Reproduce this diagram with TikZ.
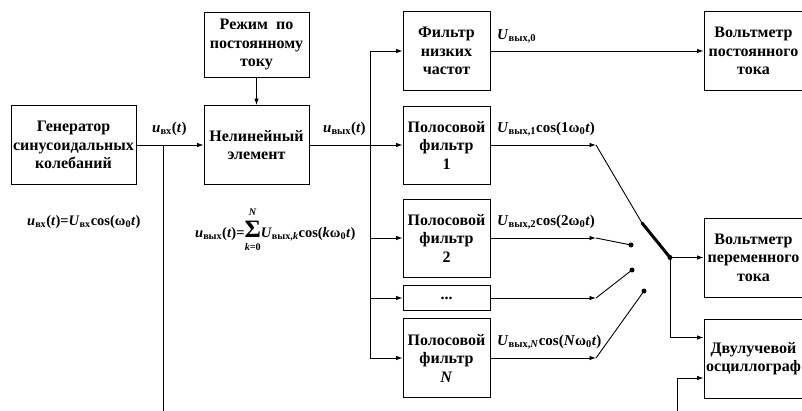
\documentclass[tikz,border=0pt]{standalone}
\usepackage{fontspec}
\usepackage{amsmath}
\setmainfont{Liberation Serif}
\usetikzlibrary{arrows.meta}
% signal names
\newcommand{\uvx}{\textit{u}\textsubscript{вх}(\textit{t})}
\newcommand{\uvyx}{\textit{u}\textsubscript{вых}(\textit{t})}
\newcommand{\Uvyx}[1]{\textit{U}\textsubscript{вых,#1}}
\begin{document}
\begin{tikzpicture}[x=1pt,y=-1pt,
		font=\fontsize{15}{18.5}\selectfont\bfseries,
		block/.style={draw, line width=0.9pt, align=center, inner sep=0pt,
			font=\fontsize{16}{18.5}\selectfont\bfseries},
		lbl/.style={anchor=west, inner sep=0pt},
		arr/.style={line width=0.9pt, -{Latex[length=6.5pt,width=4.5pt]}},
		wire/.style={line width=0.9pt},
		contact/.style={circle, fill, inner sep=0pt, minimum size=5pt}]
		\useasboundingbox (0,0) rectangle (802,411);
		\clip (0,0) rectangle (802,411);
		% Blocks on the left
		\node[block, minimum width=125pt, minimum height=79pt] (gen) at (73.5,145) {Генератор\\синусоидальных\\колебаний};
		\node[block, minimum width=105pt, minimum height=79pt] (nonlin) at (256.5,145) {Нелинейный\\элемент};
		\node[block, minimum width=105pt, minimum height=65pt] (mode) at (256.5,44.5) {Режим\ \ по\\постоянному\\току};
		% Filters
		\node[block, minimum width=87pt, minimum height=79pt] (lpf) at (446.5,51) {Фильтр\\низких\\частот};
		\node[block, minimum width=87pt, minimum height=78pt] (bp1) at (446.5,145) {Полосовой\\фильтр\\1};
		\node[block, minimum width=87pt, minimum height=78pt] (bp2) at (446.5,238) {Полосовой\\фильтр\\2};
		\node[block, minimum width=87pt, minimum height=25pt] (bpdots) at (446.5,298) {...};
		\node[block, minimum width=87pt, minimum height=79pt] (bpN) at (446.5,358) {Полосовой\\фильтр\\\textit{N}};
		% Meters (cut at the right edge)
		\node[block, minimum width=99pt, minimum height=79pt] (vdc) at (753.5,51) {Вольтметр\\постоянного\\тока};
		\node[block, minimum width=99pt, minimum height=79pt] (vac) at (753.5,257.5) {Вольтметр\\переменного\\тока};
		\node[block, minimum width=99pt, minimum height=79pt] (osc) at (753.5,358.5) {Двулучевой\\осциллограф};
		% Points of the circuit
		\coordinate (tap) at (163,145);
		\coordinate (tapend) at (163,415);
		\coordinate (bus) at (370,145);
		\coordinate (c1) at (596,145);
		\coordinate (c2) at (596,238);
		\coordinate (c3) at (596,298);
		\coordinate (cN) at (596,358);
		\coordinate (blade) at (642,223);
		\coordinate (sw) at (670,257.5);
		\coordinate (oscin) at (677,415);
		% Signal path
		\draw[arr] (gen) -- (nonlin);
		\draw[wire] (tap) -- (tapend);
		\draw[arr] (mode) -- (nonlin);
		\draw[arr] (nonlin) -- (bp1);
		\draw[wire] (bus |- lpf) -- (bus |- bpN);
		\draw[arr] (bus |- lpf) -- (lpf);
		\draw[arr] (bus |- bp2) -- (bp2);
		\draw[arr] (bus |- bpdots) -- (bpdots);
		\draw[arr] (bus |- bpN) -- (bpN);
		\draw[arr] (lpf) -- (vdc);
		\draw[arr] (bp1) -- (c1);
		\draw[arr] (bp2) -- (c2);
		\draw[arr] (bpdots) -- (c3);
		\draw[arr] (bpN) -- (cN);
		% Switch
		\node[contact] (k2) at (631,245) {};
		\node[contact] (k3) at (632,270) {};
		\node[contact] (kN) at (644,291) {};
		\draw[wire] (c1) -- (blade);
		\draw[wire] (c2) -- (k2.center);
		\draw[wire] (c3) -- (k3.center);
		\draw[wire] (cN) -- (kN.center);
		\draw[line width=3pt, line cap=round] (blade) -- (sw);
		\node[contact] at (sw) {};
		\draw[arr] (sw) -- (vac);
		\draw[arr] (sw) |- ([yshift=21pt]osc.west);
		\draw[arr] (oscin) |- ([yshift=-19.5pt]osc.west);
		% Labels
		\node[lbl] (lin) at (152,129) {\uvx};
		\node[lbl] (lout) at (323,129) {\uvyx};
		\node[lbl] (l0) at (497,36) {\Uvyx{0}};
		\node[lbl] (l1) at (497,129) {\Uvyx{1}cos(1ω\textsubscript{0}\textit{t})};
		\node[lbl] (l2) at (497,222) {\Uvyx{2}cos(2ω\textsubscript{0}\textit{t})};
		\node[lbl] (lN) at (497,342) {\Uvyx{\textit{N}}cos(\textit{N}ω\textsubscript{0}\textit{t})};
		\node[lbl, font=\fontsize{14.5}{18.5}\selectfont\bfseries] (fin) at (27,222) {\uvx=\textit{U}\textsubscript{вх}cos(ω\textsubscript{0}\textit{t})};
		\node[lbl, font=\fontsize{14.5}{18.5}\selectfont\bfseries] (fout) at (195,230) {\uvyx=$\mathop{\text{\fontsize{25}{25}\selectfont Σ}}\limits_{\rule{0pt}{11pt}\text{\textit{k}=0}}^{\text{\textit{N}}\rule[-4pt]{0pt}{0pt}}$\Uvyx{\textit{k}}cos(\textit{k}ω\textsubscript{0}\textit{t})};
	\end{tikzpicture}
\end{document}
